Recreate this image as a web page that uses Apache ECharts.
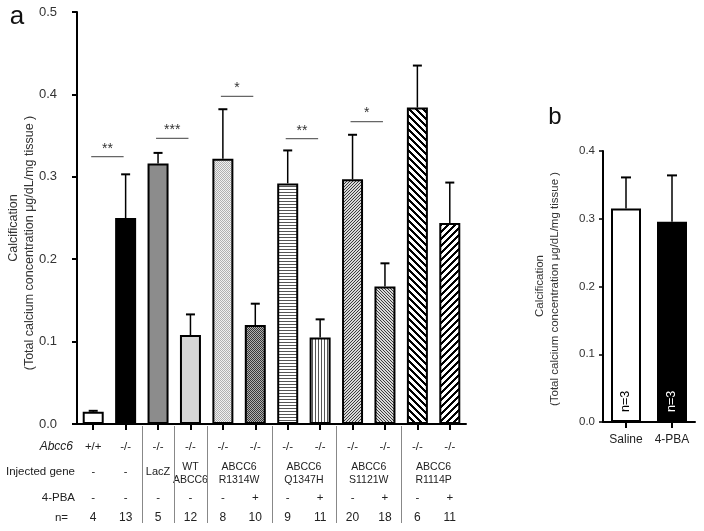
<!DOCTYPE html>
<html>
<head>
<meta charset="utf-8">
<script src="https://cdn.jsdelivr.net/npm/echarts@6/dist/echarts.min.js"></script>
<style>html,body{margin:0;padding:0;background:#fff}#c{width:704px;height:531px}</style>
</head>
<body>
<div id="c"></div>
<script>
// ---- Panel a data ----
const catsA = ['0','1','2','3','4','5','6','7','8','9','10','11'];
const meanA = [0.015, 0.250, 0.316, 0.108, 0.322, 0.120, 0.292, 0.105, 0.297, 0.167, 0.384, 0.244];
const errTopA = [0.016, 0.303, 0.329, 0.133, 0.382, 0.146, 0.332, 0.127, 0.351, 0.195, 0.435, 0.293];
const yTicksA = [0, 0.1, 0.2, 0.3, 0.4, 0.5];
const abcc6 = ['+/+','-/-','-/-','-/-','-/-','-/-','-/-','-/-','-/-','-/-','-/-','-/-'];
const injectedLabels = ['-','-','LacZ','WT\nABCC6','ABCC6\nR1314W','ABCC6\nQ1347H','ABCC6\nS1121W','ABCC6\nR1114P'];
const injectedSpan = [[0,0],[1,1],[2,2],[3,3],[4,5],[6,7],[8,9],[10,11]];
const pba = ['-','-','-','-','-','+','-','+','-','+','-','+'];
const nA = [4,13,5,12,8,10,9,11,20,18,6,11];
const separatorsAfter = [1,2,3,5,7,9];
// significance: [from, to, y, stars]
const sigFrom = [0, 2, 4, 6, 8];
const sigTo   = [1, 3, 5, 7, 9];
const sigY    = [0.3244, 0.3467, 0.3976, 0.3463, 0.367];
const sigStars= [2, 3, 1, 2, 1];
// ---- Panel b data ----
const catsB = ['Saline', '4-PBA'];
const meanB = [0.315, 0.2955];
const errTopB = [0.361, 0.364];
const nB = [3, 3];

const FONT = '"Liberation Sans", Arial, Helvetica, sans-serif';

function pattern(size, bg, draw) {
  const c = document.createElement('canvas');
  c.width = c.height = size;
  const g = c.getContext('2d');
  g.fillStyle = bg; g.fillRect(0, 0, size, size);
  draw(g, size);
  return { image: c, repeat: 'repeat' };
}
const checker = (col, bg) => pattern(2, bg, (g) => { g.fillStyle = col; g.fillRect(0,0,1,1); g.fillRect(1,1,1,1); });
const hlines = pattern(3, '#ffffff', (g, s) => { g.fillStyle = '#555'; g.fillRect(0,0,s,1); });
const vlines = pattern(3, '#ffffff', (g, s) => { g.fillStyle = '#555'; g.fillRect(0,0,1,s); });
function diag(size, thick, col, bg, up) {
  return pattern(size, bg, (g, s) => {
    g.fillStyle = col;
    for (let x = 0; x < s; x++) {
      for (let t = 0; t < thick; t++) {
        const y = up ? ((s - 1 - x + t) % s) : ((x + t) % s);
        g.fillRect(x, y, 1, 1);
      }
    }
  });
}
const fillsA = [
  '#ffffff', '#000000', '#8c8c8c', '#d6d6d6',
  checker('#b0b0b0', '#f0f0f0'), checker('#383838', '#b0b0b0'),
  hlines, vlines,
  diag(3, 1, '#3a3a3a', '#d8d8d8', true), diag(3, 1, '#3a3a3a', '#d8d8d8', false),
  diag(7, 3, '#000', '#fff', false), diag(7, 3, '#000', '#fff', true)
];

function errRender(capW) {
  return function (params, api) {
    const x = api.value(0), m = api.value(1), e = api.value(2);
    const p0 = api.coord([x, m]);
    const p1 = api.coord([x, e]);
    return { type: 'group', children: [
      { type: 'line', shape: { x1: p0[0], y1: p0[1], x2: p1[0], y2: p1[1] }, style: { stroke: '#000', lineWidth: 1.5 } },
      { type: 'line', shape: { x1: p1[0] - capW / 2, y1: p1[1], x2: p1[0] + capW / 2, y2: p1[1] }, style: { stroke: '#000', lineWidth: 2 } }
    ]};
  };
}

const chart = echarts.init(document.getElementById('c'), null, { renderer: 'canvas' });

const axisLineStyle = { show: true, lineStyle: { color: '#000', width: 2 } };

chart.setOption({
  animation: false,
  backgroundColor: '#fff',
  textStyle: { fontFamily: FONT },
  grid: [
    { left: 77, top: 12, width: 389, height: 412 },
    { left: 603, top: 151, width: 92, height: 271 }
  ],
  xAxis: [
    { type: 'category', gridIndex: 0, data: catsA, boundaryGap: true,
      axisLine: axisLineStyle, axisTick: { show: true, alignWithLabel: true, length: 6, lineStyle: { color: '#000', width: 2 } },
      axisLabel: { show: false }, splitLine: { show: false } },
    { type: 'category', gridIndex: 1, data: catsB, boundaryGap: true,
      axisLine: axisLineStyle, axisTick: { show: true, alignWithLabel: true, length: 6, lineStyle: { color: '#000', width: 2 } },
      axisLabel: { show: true, fontSize: 12, color: '#222', margin: 12, fontFamily: FONT }, splitLine: { show: false } }
  ],
  yAxis: [
    { type: 'value', gridIndex: 0, min: yTicksA[0], max: yTicksA[yTicksA.length - 1], interval: 0.1,
      axisLine: axisLineStyle, axisTick: { show: true, length: 5, lineStyle: { color: '#000', width: 2 } },
      axisLabel: { fontSize: 13, color: '#333', margin: 20, fontFamily: FONT, formatter: v => v.toFixed(1) },
      splitLine: { show: false } },
    { type: 'value', gridIndex: 1, min: 0, max: 0.4, interval: 0.1,
      axisLine: axisLineStyle, axisTick: { show: true, length: 4, lineStyle: { color: '#000', width: 1.5 } },
      axisLabel: { fontSize: 11.5, color: '#333', margin: 8, fontFamily: FONT, formatter: v => v.toFixed(1) },
      splitLine: { show: false } }
  ],
  series: [
    { type: 'bar', xAxisIndex: 0, yAxisIndex: 0, barWidth: 21, z: 3,
      data: meanA.map((v, i) => ({ value: v, itemStyle: { color: fillsA[i], borderColor: '#000', borderWidth: 2 } })) },
    { type: 'custom', xAxisIndex: 0, yAxisIndex: 0, z: 2, renderItem: errRender(9),
      data: meanA.map((v, i) => [i, v, errTopA[i]]) },
    { type: 'custom', xAxisIndex: 0, yAxisIndex: 0, z: 4, clip: false,
      renderItem: function (params, api) {
        const a = api.coord([api.value(0), api.value(2)]);
        const b = api.coord([api.value(1), api.value(2)]);
        const x1 = a[0] - 2, x2 = b[0] - 2, y = a[1];
        return { type: 'group', children: [
          { type: 'line', shape: { x1: x1, y1: y, x2: x2, y2: y }, style: { stroke: '#666', lineWidth: 1.3 } },
          { type: 'text', x: (x1 + x2) / 2, y: y - 1, style: { text: '*'.repeat(api.value(3)), fill: '#333', font: '14px ' + FONT, align: 'center', verticalAlign: 'bottom' } }
        ]};
      },
      data: sigFrom.map((f, i) => [f, sigTo[i], sigY[i], sigStars[i]]) },
    { type: 'bar', xAxisIndex: 1, yAxisIndex: 1, barWidth: 30, z: 3,
      data: meanB.map((v, i) => ({ value: v,
        itemStyle: { color: i === 0 ? '#fff' : '#000', borderColor: '#000', borderWidth: 2 },
        label: { show: true, position: 'insideBottom', rotate: 90, align: 'left', verticalAlign: 'middle', distance: 10,
          formatter: 'n=' + nB[i], color: i === 0 ? '#000' : '#fff', fontSize: 12.5, fontFamily: FONT } })) },
    { type: 'custom', xAxisIndex: 1, yAxisIndex: 1, z: 2, renderItem: errRender(10),
      data: meanB.map((v, i) => [i, v, errTopB[i]]) }
  ]
});

// table and annotations, positioned through the axis scale
const colX = catsA.map((c, i) => chart.convertToPixel({ xAxisIndex: 0 }, i));
const bandW = colX[1] - colX[0];
const g = [];
const txt = (x, y, s, opt, rot) => g.push({ type: 'text', x: x, y: y, rotation: rot || 0, silent: true,
  style: Object.assign({ text: s, fill: '#222', font: '11.5px ' + FONT, align: 'center', verticalAlign: 'middle' }, opt || {}) });
const rowY = { abcc6: 447, inj: 472, pba: 497.5, n: 518 };
txt(73, rowY.abcc6, 'Abcc6', { align: 'right', font: 'italic 12px ' + FONT });
txt(75, rowY.inj, 'Injected gene', { align: 'right', font: '11.5px ' + FONT });
txt(75, rowY.pba, '4-PBA', { align: 'right', font: '11.5px ' + FONT });
txt(68, rowY.n, 'n=', { align: 'right', font: '11.5px ' + FONT });
colX.forEach((x, i) => {
  txt(x, rowY.abcc6, abcc6[i], { font: '11.5px ' + FONT });
  txt(x, rowY.pba, pba[i], { font: '11.5px ' + FONT });
  txt(x, rowY.n, String(nA[i]), { font: '12px ' + FONT });
});
injectedLabels.forEach((s, k) => {
  const sp = injectedSpan[k];
  const x = (colX[sp[0]] + colX[sp[1]]) / 2;
  const two = s.indexOf('\n') >= 0;
  txt(x, two ? 473.5 : 471.5, s, { font: (two ? '10.5px ' : '11px ') + FONT, lineHeight: 13 });
});
separatorsAfter.forEach(i => {
  const x = Math.round(colX[i] + bandW / 2) + 0.5;
  g.push({ type: 'line', silent: true, shape: { x1: x, y1: 426, x2: x, y2: 523 }, style: { stroke: '#888', lineWidth: 1 } });
});
// axis titles
const R = Math.PI / 2;
txt(14, 228, 'Calcification', { font: '12.5px ' + FONT, fill: '#333' }, R);
txt(30, 243, '(Total calcium concentration \u03bcg/dL/mg tissue )', { font: '12.5px ' + FONT, fill: '#333' }, R);
txt(540, 286, 'Calcification', { font: '11.5px ' + FONT, fill: '#333' }, R);
txt(555, 289, '(Total calcium concentration \u03bcg/dL/mg tissue )', { font: '11.5px ' + FONT, fill: '#333' }, R);
// panel letters
txt(17, 17, 'a', { font: '26px ' + FONT, fill: '#111' });
txt(555, 117, 'b', { font: '24px ' + FONT, fill: '#111' });
chart.setOption({ graphic: g });
</script>
</body>
</html>
